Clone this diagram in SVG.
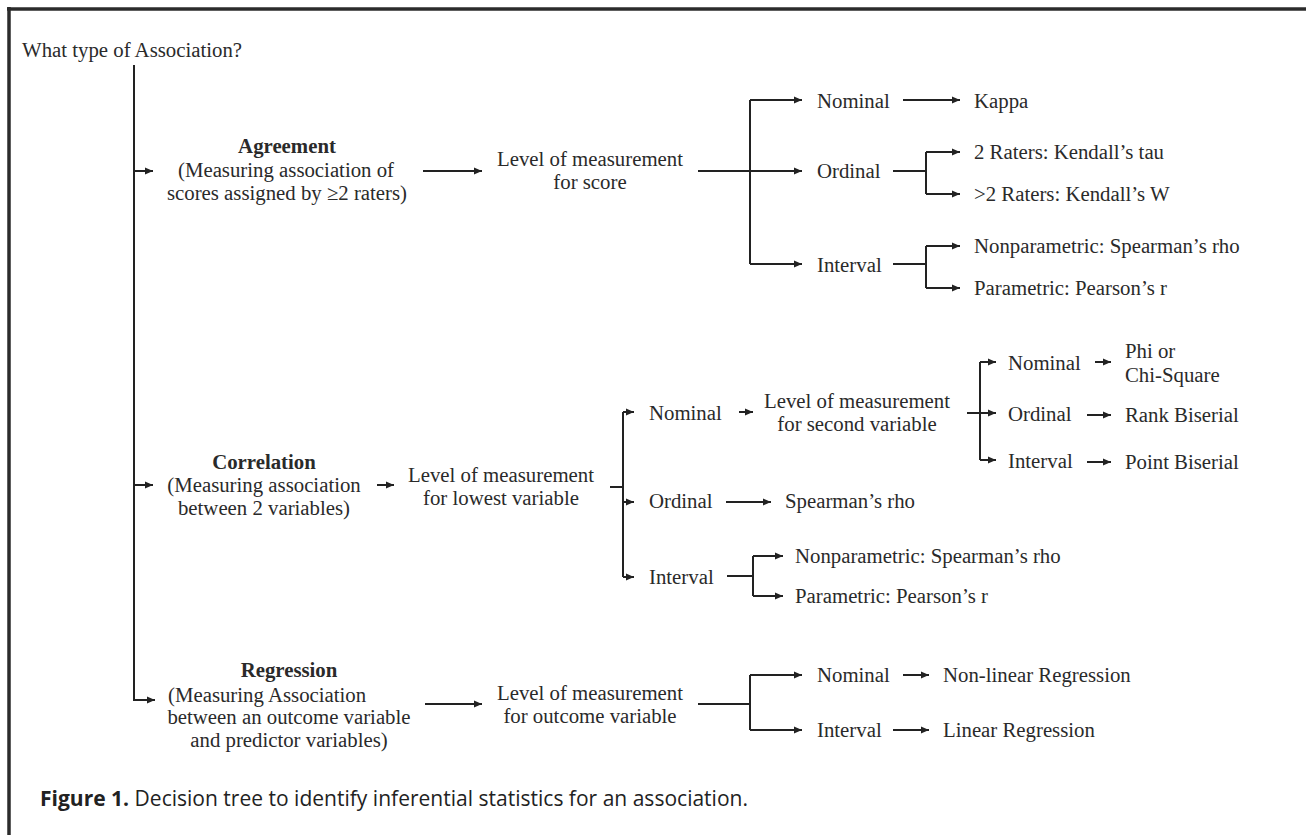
<svg xmlns="http://www.w3.org/2000/svg" width="1306" height="835" viewBox="0 0 1306 835">
<defs>
<marker id="ah" markerWidth="9" markerHeight="8" refX="8" refY="4" orient="auto" markerUnits="userSpaceOnUse">
<path d="M0,0.5 L8,4 L0,7.5 Z" fill="#222"/>
</marker>
<style>
.t{font-family:"Liberation Serif","Times New Roman",serif;font-size:20.8px;fill:#2a2a2a}
.b{font-weight:bold}
.m{text-anchor:middle}
.c line,.c path{stroke:#222;stroke-width:2;fill:none}
.a{marker-end:url(#ah)}
.cap{font-family:"Open Sans","Noto Sans",sans-serif;font-size:21px;fill:#222}
</style>
</defs>
<rect width="1306" height="835" fill="#fff"/>
<g id="frame">
<line x1="7" y1="9" x2="1306" y2="9" stroke="#2b2b2b" stroke-width="3.5"/>
<line x1="9" y1="7" x2="9" y2="835" stroke="#2b2b2b" stroke-width="3.5"/>
</g>
<g class="c" id="connectors">
<path class="a" d="M134,65 V700 H155"/>
<line class="a" x1="134" y1="171" x2="153" y2="171"/>
<line class="a" x1="134" y1="485" x2="153" y2="485"/>
<line class="a" x1="423" y1="171" x2="482" y2="171"/>
<line class="a" x1="698" y1="171" x2="802" y2="171"/>
<line x1="750" y1="100" x2="750" y2="264"/>
<line class="a" x1="750" y1="100" x2="802" y2="100"/>
<line class="a" x1="750" y1="264" x2="802" y2="264"/>
<line class="a" x1="903" y1="100" x2="960" y2="100"/>
<line x1="893" y1="171" x2="926" y2="171"/>
<line x1="926" y1="152" x2="926" y2="194"/>
<line class="a" x1="926" y1="152" x2="960" y2="152"/>
<line class="a" x1="926" y1="194" x2="960" y2="194"/>
<line x1="893" y1="264" x2="926" y2="264"/>
<line x1="926" y1="246" x2="926" y2="288"/>
<line class="a" x1="926" y1="246" x2="960" y2="246"/>
<line class="a" x1="926" y1="288" x2="960" y2="288"/>
<line class="a" x1="377" y1="485" x2="394" y2="485"/>
<line x1="610" y1="487" x2="623" y2="487"/>
<line x1="623" y1="412" x2="623" y2="577"/>
<line class="a" x1="623" y1="412" x2="634" y2="412"/>
<line class="a" x1="623" y1="502" x2="634" y2="502"/>
<line class="a" x1="623" y1="577" x2="634" y2="577"/>
<line class="a" x1="739" y1="412" x2="753" y2="412"/>
<line class="a" x1="967" y1="413" x2="996" y2="413"/>
<line x1="980" y1="362" x2="980" y2="460"/>
<line class="a" x1="980" y1="362" x2="996" y2="362"/>
<line class="a" x1="980" y1="460" x2="996" y2="460"/>
<line class="a" x1="1095" y1="362" x2="1111" y2="362"/>
<line class="a" x1="1087" y1="415" x2="1111" y2="415"/>
<line class="a" x1="1087" y1="462" x2="1111" y2="462"/>
<line class="a" x1="726" y1="502" x2="771" y2="502"/>
<line x1="727" y1="576" x2="753" y2="576"/>
<line x1="753" y1="556" x2="753" y2="596"/>
<line class="a" x1="753" y1="556" x2="783" y2="556"/>
<line class="a" x1="753" y1="596" x2="783" y2="596"/>
<line class="a" x1="425" y1="704" x2="482" y2="704"/>
<line x1="698" y1="704" x2="750" y2="704"/>
<line x1="750" y1="675" x2="750" y2="730"/>
<line class="a" x1="750" y1="675" x2="802" y2="675"/>
<line class="a" x1="750" y1="730" x2="802" y2="730"/>
<line class="a" x1="903" y1="675" x2="929" y2="675"/>
<line class="a" x1="893" y1="730" x2="929" y2="730"/>
</g>
<g id="root"><text class="t" x="22" y="57">What type of Association?</text></g>
<g id="agreement"><text class="t b m" x="287" y="153">Agreement</text><text class="t m" x="286" y="177">(Measuring association of</text><text class="t m" x="287" y="200">scores assigned by ≥2 raters)</text></g>
<g id="agr-level"><text class="t m" x="590" y="166">Level of measurement</text><text class="t m" x="590" y="189">for score</text></g>
<g id="agr-nominal"><text class="t" x="817" y="108">Nominal</text></g>
<g id="agr-ordinal"><text class="t" x="817" y="178">Ordinal</text></g>
<g id="agr-interval"><text class="t" x="817" y="272">Interval</text></g>
<g id="kappa"><text class="t" x="974" y="108">Kappa</text></g>
<g id="kendall-tau"><text class="t" x="974" y="159">2 Raters: Kendall’s tau</text></g>
<g id="kendall-w"><text class="t" x="974" y="201">&gt;2 Raters: Kendall’s W</text></g>
<g id="agr-spearman"><text class="t" x="974" y="253">Nonparametric: Spearman’s rho</text></g>
<g id="agr-pearson"><text class="t" x="974" y="295">Parametric: Pearson’s r</text></g>
<g id="correlation"><text class="t b m" x="264" y="469">Correlation</text><text class="t m" x="264" y="492">(Measuring association</text><text class="t m" x="264" y="515">between 2 variables)</text></g>
<g id="cor-level"><text class="t m" x="501" y="482">Level of measurement</text><text class="t m" x="501" y="505">for lowest variable</text></g>
<g id="cor-nominal"><text class="t" x="649" y="420">Nominal</text></g>
<g id="cor-ordinal"><text class="t" x="649" y="508">Ordinal</text></g>
<g id="cor-interval"><text class="t" x="649" y="584">Interval</text></g>
<g id="cor-level2"><text class="t m" x="857" y="408">Level of measurement</text><text class="t m" x="857" y="431">for second variable</text></g>
<g id="cor2-nominal"><text class="t" x="1008" y="370">Nominal</text></g>
<g id="cor2-ordinal"><text class="t" x="1008" y="421">Ordinal</text></g>
<g id="cor2-interval"><text class="t" x="1008" y="468">Interval</text></g>
<g id="phi"><text class="t" x="1125" y="358">Phi or</text><text class="t" x="1125" y="382">Chi-Square</text></g>
<g id="rank-biserial"><text class="t" x="1125" y="422">Rank Biserial</text></g>
<g id="point-biserial"><text class="t" x="1125" y="469">Point Biserial</text></g>
<g id="cor-spearman"><text class="t" x="785" y="508">Spearman’s rho</text></g>
<g id="cor-nonpar"><text class="t" x="795" y="563">Nonparametric: Spearman’s rho</text></g>
<g id="cor-par"><text class="t" x="795" y="603">Parametric: Pearson’s r</text></g>
<g id="regression"><text class="t b m" x="289" y="677">Regression</text><text class="t" x="168" y="702">(Measuring Association</text><text class="t m" x="289" y="724">between an outcome variable</text><text class="t m" x="289" y="747">and predictor variables)</text></g>
<g id="reg-level"><text class="t m" x="590" y="700">Level of measurement</text><text class="t m" x="590" y="723">for outcome variable</text></g>
<g id="reg-nominal"><text class="t" x="817" y="682">Nominal</text></g>
<g id="reg-interval"><text class="t" x="817" y="737">Interval</text></g>
<g id="nonlinear"><text class="t" x="943" y="682">Non-linear Regression</text></g>
<g id="linear"><text class="t" x="943" y="737">Linear Regression</text></g>
<g id="caption"><text class="cap" x="40" y="806" textLength="708" lengthAdjust="spacingAndGlyphs"><tspan font-weight="bold">Figure 1.</tspan> Decision tree to identify inferential statistics for an association.</text></g>
</svg>
